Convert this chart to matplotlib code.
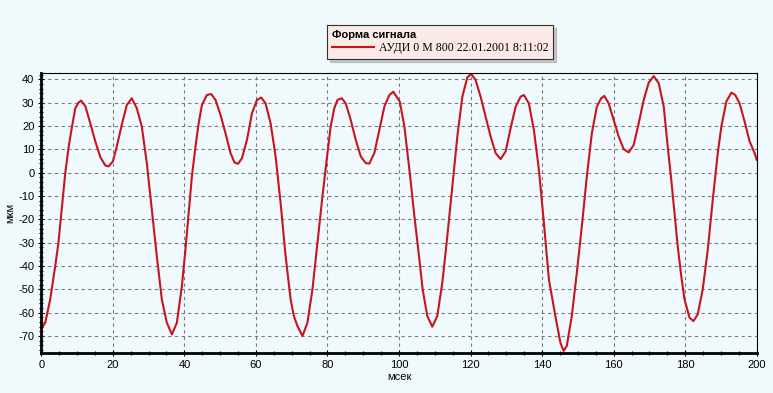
import numpy as np
import matplotlib
matplotlib.use("Agg")
import matplotlib.pyplot as plt
from matplotlib.ticker import MultipleLocator

# значения (мсек, мкм)
t_ms = [0, 1.1, 2.5, 3.9, 4.8, 5.7, 6.7, 7.6, 8.5, 9.5, 10.4, 11.1, 12.3, 13.7, 15.1,
        16.5, 17.9, 18.8, 20.0, 21.1, 22.5, 23.9, 25.3, 26.7, 28.1, 29.5, 30.9, 32.3,
        33.7, 35.1, 36.5, 37.9, 39.3, 40.3, 41.2, 42.1, 43.1, 44.0, 44.9, 46.3, 47.5,
        48.7, 50.1, 51.5, 52.9, 54.0, 55.0, 56.1, 57.5, 58.9, 60.3, 61.5, 62.7, 64.1,
        65.5, 66.9, 68.3, 69.7, 70.6, 71.6, 73.0, 74.4, 75.8, 77.2, 78.6, 80.0, 80.9,
        81.9, 82.8, 84.0, 85.1, 86.5, 87.9, 89.3, 90.7, 91.7, 93.1, 94.5, 95.9, 97.3,
        98.4, 99.6, 100.2, 101.5, 102.9, 104.3, 105.7, 106.6, 107.9, 109.3, 110.7,
        112.1, 113.5, 114.9, 116.3, 117.7, 119.1, 120.2, 121.4, 122.8, 124.2, 125.6,
        127.0, 128.4, 129.8, 131.2, 132.6, 134.0, 134.9, 136.3, 137.7, 139.1, 140.5,
        141.9, 143.7, 145.1, 146.0, 146.9, 148.3, 149.7, 151.1, 152.5, 153.9, 155.3,
        156.5, 157.4, 158.6, 160.0, 161.4, 162.8, 164.2, 165.6, 167.0, 168.4, 169.8,
        171.2, 172.6, 174.0, 175.1, 176.1, 177.0, 177.9, 178.9, 179.8, 181.2, 182.3,
        183.5, 184.9, 186.3, 187.7, 189.1, 190.1, 191.5, 192.9, 194.0, 195.2, 196.6,
        198.0, 199.4, 200.0]
amp_um = [-67, -64.3, -54.3, -40, -30, -15.8, -0.2, 10.5, 19, 27.6, 30, 30.9, 28.6, 21.2,
          13.4, 6.7, 3.1, 2.7, 4.8, 11.2, 20.5, 29, 31.9, 27.6, 19.8, 4.1, -15.8, -35.8,
          -54.3, -64.3, -69.3, -64.3, -48.6, -33, -17.3, -1.6, 11.2, 21.2, 29, 33.3, 33.7,
          31.2, 24.8, 16.9, 8.4, 4.4, 3.8, 6.2, 14.1, 25.5, 31.2, 32.2, 29.7, 21.2, 7,
          -13, -35.8, -54.3, -61.4, -65.7, -70, -64.3, -50, -30, -10.1, 8.4, 19.8, 27.6,
          31.2, 31.9, 29.7, 22.6, 14.1, 7, 4.1, 3.9, 8.4, 18.3, 28.3, 33.3, 34.7, 31.9,
          30.5, 19.8, 1.3, -18.7, -37.2, -50, -61.4, -66, -61.4, -47.2, -27.2, -5.9, 15.5,
          32.6, 40.9, 42.3, 39.7, 32.6, 24, 15.5, 8.4, 5.8, 9.1, 19.1, 28.3, 32.6, 33.3,
          29.7, 18.3, 1.3, -21.5, -45.8, -61.4, -72.8, -76.4, -74.2, -61.4, -42.9, -23,
          -1.6, 16.9, 28.3, 31.9, 32.9, 29.7, 22.6, 15.5, 10.1, 8.7, 11.9, 21.2, 31.2,
          38.6, 41.4, 38.3, 28.3, 11.2, -3, -17.3, -31.5, -44.4, -54.3, -62.1, -63.6,
          -60.7, -50, -33, -11.6, 8.4, 19.8, 30.5, 34.3, 33.3, 29.7, 21.9, 13.4, 8.4, 5.5]

legend_title = "Форма сигнала"
series_label = "АУДИ 0 М 800 22.01.2001 8:11:02"

bg = "#F0F9FC"
plt.rcParams['font.family'] = ['Liberation Sans', 'DejaVu Sans']
plt.rcParams['axes.unicode_minus'] = False

fig = plt.figure(figsize=(7.73, 3.93), dpi=100, facecolor=bg)
ax = fig.add_axes([0.0534, 0.101, 0.9256, 0.7125], facecolor=bg)

ax.plot(t_ms, amp_um, color="#C8141C", lw=1.5, label=series_label)

ax.set_xlim(0, 200)
ax.set_ylim(-77.4, 42.6)
ax.xaxis.set_major_locator(MultipleLocator(20))
ax.xaxis.set_minor_locator(MultipleLocator(5))
ax.yaxis.set_major_locator(MultipleLocator(10))
ax.yaxis.set_minor_locator(MultipleLocator(2))
ax.tick_params(which="major", labelsize=8, length=4, width=0.8, direction="inout", pad=3)
ax.tick_params(which="minor", length=3, width=0.8, direction="inout")

ax.grid(True, which="major", color="#7A7A7A", linestyle=(0, (3, 3)), lw=0.8)

for side in ("left", "bottom"):
    ax.spines[side].set_linewidth(2)
for side in ("top", "right"):
    ax.spines[side].set_linewidth(0.8)

ax.set_xlabel("мсек", fontsize=8, labelpad=1)
ax.set_ylabel("мкм", fontsize=8, labelpad=2)

leg = ax.legend(loc="upper left", bbox_to_anchor=(327 / 773, 1 - 25 / 393),
                bbox_transform=fig.transFigure, borderaxespad=0, title=legend_title,
                title_fontproperties={"family": "Liberation Sans", "weight": "bold", "size": 8},
                prop={"family": "Liberation Serif", "size": 8.5},
                handlelength=3.6, handletextpad=0.4, borderpad=0.4, labelspacing=0.2,
                fancybox=False, shadow={"color": "#B0B0B0", "alpha": 0.7},
                framealpha=1, facecolor="#FBEAE6", edgecolor="#303030")
leg._legend_box.align = "left"
leg.get_frame().set_linewidth(0.8)

fig.savefig("out.png", dpi=100, facecolor=bg)
